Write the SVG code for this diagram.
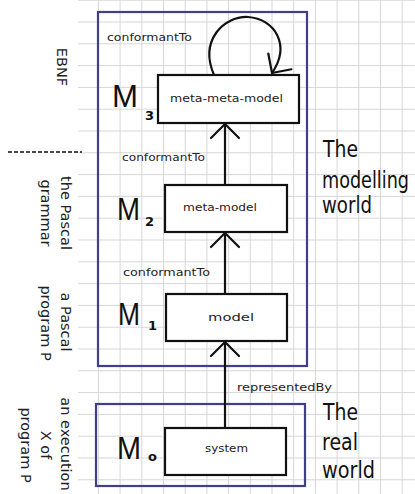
<svg xmlns="http://www.w3.org/2000/svg" width="415" height="494" viewBox="0 0 415 494">
  <defs>
    <!-- squared-paper background -->
    <pattern id="grid" patternUnits="userSpaceOnUse" x="76.2" y="-0.3" width="21.7" height="21.8">
      <path d="M0.5 0V21.8M0 0.5H21.7" fill="none" stroke="#d6d6d6" stroke-width="1"/>
    </pattern>
    <!-- open V arrowhead -->
    <marker id="vhead" markerUnits="userSpaceOnUse" viewBox="-18 -18 36 36" markerWidth="36" markerHeight="36" refX="0" refY="0" orient="auto">
      <path d="M-14,-14 L0,0 L-14,14" fill="none" stroke="#111" stroke-width="2.2" stroke-linecap="round" stroke-linejoin="round"/>
    </marker>
    <style>
      .world { fill: none; stroke: #3f3f8c; stroke-width: 2.2; }
      .box { fill: #fff; stroke: #111; stroke-width: 2.2; }
      .edge { fill: none; stroke: #111; stroke-width: 2.2; marker-end: url(#vhead); }
      .lbl { font-family: "DejaVu Sans", sans-serif; font-size: 11px; fill: #222; }
      .side { font-family: "DejaVu Sans", sans-serif; font-size: 14.5px; fill: #222; text-anchor: middle; }
      .big { font-family: "DejaVu Sans", sans-serif; font-size: 18px; fill: #111; }
      .m { font-family: "Liberation Sans", sans-serif; font-size: 31px; fill: #111; }
      .sub { font-family: "DejaVu Sans", sans-serif; font-size: 13px; font-weight: bold; fill: #111; }
    </style>
  </defs>

  <rect width="415" height="494" fill="#fff"/>
  <rect x="78" y="0" width="337" height="494" fill="url(#grid)"/>

  <!-- world frames -->
  <g id="modelling-world">
    <rect class="world" x="98" y="12" width="209" height="354"/>
    <text class="big" transform="translate(323,157) scale(1,1.25)" textLength="35" lengthAdjust="spacingAndGlyphs">The</text>
    <text class="big" transform="translate(322,188) scale(1,1.25)" textLength="87" lengthAdjust="spacingAndGlyphs">modelling</text>
    <text class="big" transform="translate(322,213) scale(1,1.25)" textLength="50" lengthAdjust="spacingAndGlyphs">world</text>
  </g>
  <g id="real-world">
    <rect class="world" x="96" y="404" width="209" height="82"/>
    <text class="big" transform="translate(323,420) scale(1,1.25)" textLength="35" lengthAdjust="spacingAndGlyphs">The</text>
    <text class="big" transform="translate(322,450) scale(1,1.25)" textLength="36" lengthAdjust="spacingAndGlyphs">real</text>
    <text class="big" transform="translate(322,478) scale(1,1.25)" textLength="53" lengthAdjust="spacingAndGlyphs">world</text>
  </g>

  <!-- separator -->
  <line x1="8" y1="152" x2="82" y2="152" stroke="#111" stroke-width="1.6" stroke-dasharray="4 2"/>

  <!-- side captions -->
  <g id="caption-m3">
    <text class="side" transform="translate(57,67) rotate(90)">EBNF</text>
  </g>
  <g id="caption-m2">
    <text class="side" transform="translate(61,213) rotate(90)">the Pascal</text>
    <text class="side" transform="translate(41,213) rotate(90)">grammar</text>
  </g>
  <g id="caption-m1">
    <text class="side" transform="translate(61,322) rotate(90)">a Pascal</text>
    <text class="side" transform="translate(41,323) rotate(90)">program P</text>
  </g>
  <g id="caption-m0">
    <text class="side" transform="translate(61,444) rotate(90)">an execution</text>
    <text class="side" transform="translate(41,445) rotate(90)">X of</text>
    <text class="side" transform="translate(21,445) rotate(90)">program P</text>
  </g>

  <!-- connectors -->
  <g id="connectors">
    <path class="edge" d="M214,75 C199,40 224,16 248,17 C275,19 291,45 272,73"/>
    <line class="edge" x1="225" y1="185" x2="225" y2="124"/>
    <line class="edge" x1="225" y1="294" x2="225" y2="233"/>
    <line class="edge" x1="225" y1="428" x2="225" y2="342"/>
    <text class="lbl" x="107" y="41" textLength="85" lengthAdjust="spacingAndGlyphs">conformantTo</text>
    <text class="lbl" x="122" y="161" textLength="83" lengthAdjust="spacingAndGlyphs">conformantTo</text>
    <text class="lbl" x="123" y="276" textLength="87" lengthAdjust="spacingAndGlyphs">conformantTo</text>
    <text class="lbl" x="237" y="391" textLength="95" lengthAdjust="spacingAndGlyphs">representedBy</text>
  </g>

  <!-- levels -->
  <g id="m3">
    <rect class="box" x="158" y="75" width="141" height="48"/>
    <text class="lbl" x="170" y="102" textLength="113" lengthAdjust="spacingAndGlyphs">meta-meta-model</text>
    <text class="m" x="112" y="107" textLength="26" lengthAdjust="spacingAndGlyphs">M</text>
    <text class="sub" x="145" y="120">3</text>
  </g>
  <g id="m2">
    <rect class="box" x="165" y="185" width="122" height="47"/>
    <text class="lbl" x="183" y="211" textLength="74" lengthAdjust="spacingAndGlyphs">meta-model</text>
    <text class="m" x="117" y="220" textLength="23" lengthAdjust="spacingAndGlyphs">M</text>
    <text class="sub" x="145" y="226">2</text>
  </g>
  <g id="m1">
    <rect class="box" x="166" y="294" width="121" height="47"/>
    <text class="lbl" x="208" y="321" textLength="46" lengthAdjust="spacingAndGlyphs">model</text>
    <text class="m" x="118" y="325" textLength="22" lengthAdjust="spacingAndGlyphs">M</text>
    <text class="sub" x="148" y="330">1</text>
  </g>
  <g id="m0">
    <rect class="box" x="165" y="428" width="121" height="47"/>
    <text class="lbl" x="205" y="452" textLength="43" lengthAdjust="spacingAndGlyphs">system</text>
    <text class="m" x="117" y="459" textLength="24" lengthAdjust="spacingAndGlyphs">M</text>
    <text class="sub" x="148" y="461">o</text>
  </g>
</svg>
